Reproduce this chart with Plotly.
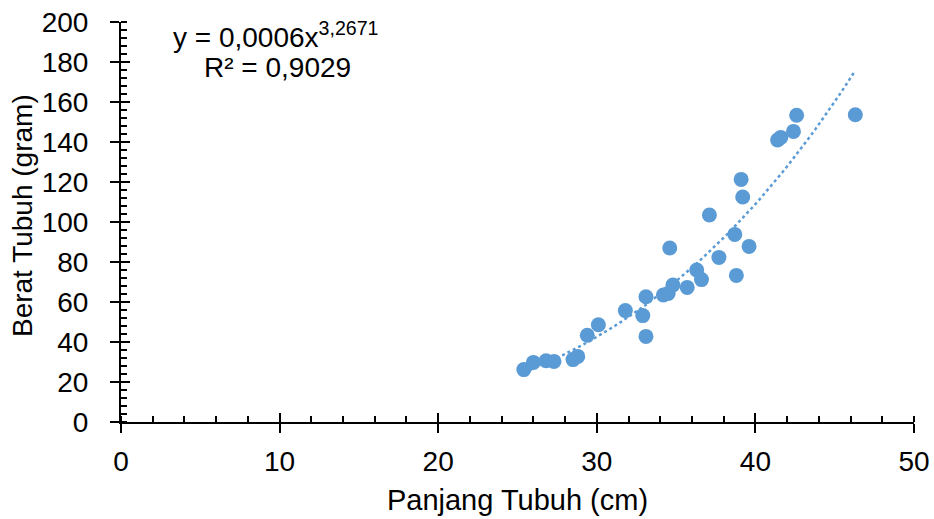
import numpy as np
import plotly.graph_objects as go

# Data
panjang = [25.4, 26.0, 26.8, 27.3, 28.5, 28.8, 29.4, 30.1, 31.8, 32.9, 33.1, 33.1,
           34.2, 34.5, 34.6, 34.8, 35.7, 36.3, 36.6, 37.1, 37.7, 38.7, 38.8, 39.1,
           39.2, 39.6, 41.4, 41.6, 42.4, 42.6, 46.3]
berat = [26.2, 29.8, 30.6, 30.3, 31.2, 32.8, 43.4, 48.6, 55.7, 53.2, 42.8, 62.6,
         63.5, 64.3, 87.0, 68.5, 67.3, 76.0, 71.2, 103.5, 82.3, 93.8, 73.3, 121.3,
         112.5, 87.8, 141.0, 142.3, 145.3, 153.4, 153.6]

x_ticks = [0, 10, 20, 30, 40, 50]
y_ticks = [0, 20, 40, 60, 80, 100, 120, 140, 160, 180, 200]
x_title = "Panjang Tubuh (cm)"
y_title = "Berat Tubuh (gram)"
eq_line1 = "y = 0,0006x<sup>3,2671</sup>"
eq_line2 = "R² = 0,9029"

BLUE = "#5B9BD5"
FONT = "Liberation Sans, Arial, sans-serif"
FS = 28

# power trendline fitted (log-log) to the data, as Excel does
xa = np.array(panjang)
ya = np.array(berat)
b, lna = np.polyfit(np.log(xa), np.log(ya), 1)
xt = np.linspace(xa.min(), xa.max(), 60)
yt = np.exp(lna) * xt ** b

fig = go.Figure()
fig.add_trace(go.Scatter(x=xt, y=yt, mode="lines",
                         line=dict(color=BLUE, width=2.5, dash="dot"),
                         hoverinfo="skip", showlegend=False))
fig.add_trace(go.Scatter(x=panjang, y=berat, mode="markers",
                         marker=dict(color=BLUE, size=15, line=dict(width=0)),
                         showlegend=False))
# invisible trace on overlay axes (inside half of cross ticks)
fig.add_trace(go.Scatter(x=[0], y=[0], xaxis="x2", yaxis="y2", mode="markers",
                         marker=dict(opacity=0), hoverinfo="skip", showlegend=False))

axis_common = dict(showgrid=False, zeroline=False, showline=True, linecolor="black",
                   linewidth=2, ticks="outside", ticklen=9, tickwidth=2, tickcolor="black",
                   automargin=False,
                   tickfont=dict(family=FONT, size=FS, color="black"))

fig.update_layout(
    template="none",
    width=934, height=519,
    margin=dict(l=121, r=20, t=22, b=97),
    plot_bgcolor="white", paper_bgcolor="white",
    font=dict(family=FONT, color="black"),
    xaxis=dict(range=[0, 50], tickvals=x_ticks, ticktext=[str(v) for v in x_ticks],
               ticklabelstandoff=4,
               title=dict(text=x_title, font=dict(family=FONT, size=29), standoff=14),
               minor=dict(dtick=2, ticks="inside", ticklen=6, tickwidth=2, tickcolor="black"),
               **axis_common),
    yaxis=dict(range=[0, 200], tickvals=y_ticks, ticktext=[str(v) for v in y_ticks],
               ticklabelstandoff=16,
               minor=dict(dtick=4, ticks="inside", ticklen=6, tickwidth=2, tickcolor="black"),
               **axis_common),
    xaxis2=dict(range=[0, 50], overlaying="x", tickvals=x_ticks, ticks="inside", ticklen=9,
                tickwidth=2, tickcolor="black", showticklabels=False, showgrid=False,
                zeroline=False, showline=False, automargin=False),
    yaxis2=dict(range=[0, 200], overlaying="y", tickvals=y_ticks, ticks="inside", ticklen=9,
                tickwidth=2, tickcolor="black", showticklabels=False, showgrid=False,
                zeroline=False, showline=False, automargin=False),
    annotations=[
        dict(text=y_title, xref="paper", yref="paper", x=-0.1248, y=0.515,
             xanchor="center", yanchor="middle", textangle=-90, showarrow=False,
             font=dict(family=FONT, size=FS, color="black")),
        dict(text=eq_line1, xref="paper", yref="paper", x=0.1955, y=0.9675,
             xanchor="center", yanchor="middle", showarrow=False,
             font=dict(family=FONT, size=FS, color="black")),
        dict(text=eq_line2, xref="paper", yref="paper", x=0.197, y=0.8875,
             xanchor="center", yanchor="middle", showarrow=False,
             font=dict(family=FONT, size=FS, color="black")),
    ],
)

fig.write_html("out.html", config={"displayModeBar": False},
               post_script="document.body.style.margin='0';")
